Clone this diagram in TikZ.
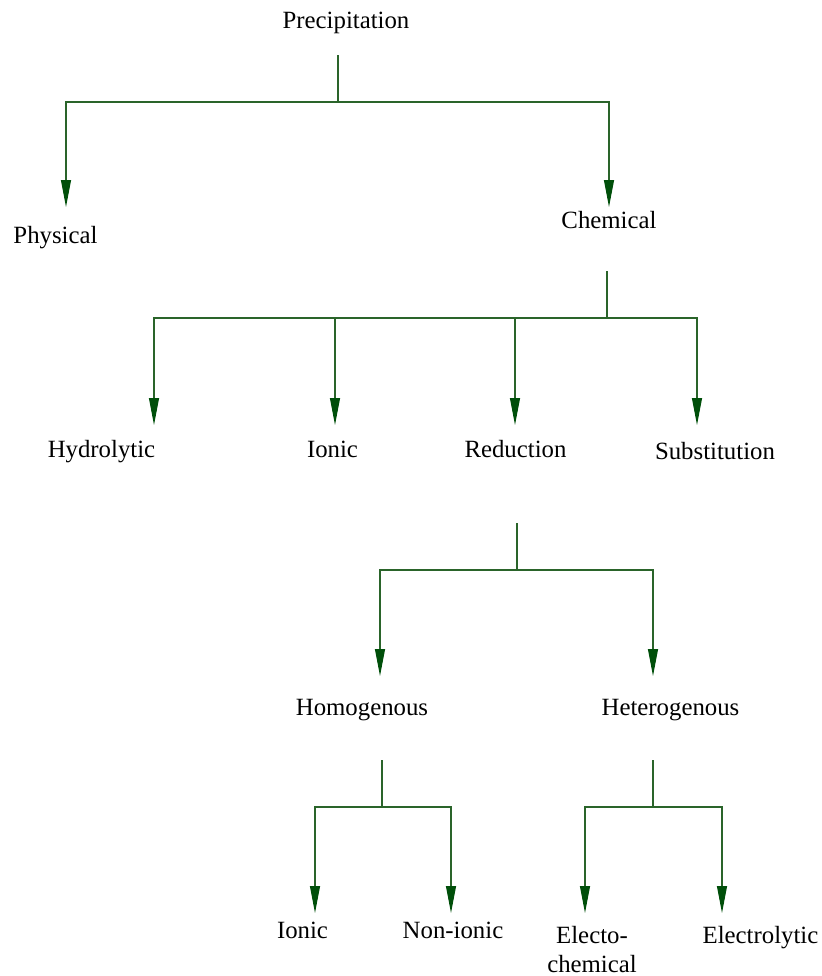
\documentclass[tikz,border=0pt]{standalone}
\usepackage{fontspec}
\setmainfont{Liberation Serif}
\usetikzlibrary{arrows.meta}
\definecolor{lgreen}{HTML}{2A642A}
\definecolor{agreen}{HTML}{004F0A}
\begin{document}
\begin{tikzpicture}[x=0.5pt,y=-0.5pt,
  lbl/.style={anchor=base,inner sep=0pt,font=\fontsize{12.4}{14.5}\selectfont},
  link/.style={draw=lgreen,line width=0.55pt},
  arr/.style={link,-{Triangle[length=13.5pt,width=5pt,color=agreen]}}]
\useasboundingbox (0,0) rectangle (822,976);
% labels
\node[lbl] (prec) at (346,28) {Precipitation};
\node[lbl] (phys) at (55.5,243) {Physical};
\node[lbl] (chem) at (609,228) {Chemical};
\node[lbl] (hydr) at (101.5,457) {Hydrolytic};
\node[lbl] (ion1) at (332.5,457) {Ionic};
\node[lbl] (redu) at (515.5,457) {Reduction};
\node[lbl] (subs) at (715,459) {Substitution};
\node[lbl] (homo) at (362,715) {Homogenous};
\node[lbl] (hete) at (670.5,715) {Heterogenous};
\node[lbl] (ion2) at (302.5,938) {Ionic};
\node[lbl] (noni) at (453,938) {Non-ionic};
\node[lbl,align=center] (elch) at (592,972) {Electo-\\chemical};
\node[lbl] (elly) at (760.5,943) {Electrolytic};
% level 1
\coordinate (s0) at (338,55); \coordinate (j0) at (338,102);
\coordinate (tphys) at (66,207); \coordinate (tchem) at (609,207);
\draw[link] (s0) -- (j0);
\draw[arr] (j0) -| (tphys);
\draw[arr] (j0) -| (tchem);
% level 2
\coordinate (s1) at (607,271); \coordinate (j1) at (607,318);
\coordinate (thydr) at (154,425); \coordinate (tion1) at (335,425);
\coordinate (tredu) at (515,425); \coordinate (tsubs) at (697,425);
\draw[link] (s1) -- (j1);
\draw[arr] (j1) -| (thydr);
\draw[arr] (j1) -| (tion1);
\draw[arr] (j1) -| (tredu);
\draw[arr] (j1) -| (tsubs);
% level 3
\coordinate (s2) at (517,523); \coordinate (j2) at (517,570);
\coordinate (thomo) at (380,676); \coordinate (thete) at (653,676);
\draw[link] (s2) -- (j2);
\draw[arr] (j2) -| (thomo);
\draw[arr] (j2) -| (thete);
% level 4 left
\coordinate (s3) at (382,760); \coordinate (j3) at (382,807);
\coordinate (tion2) at (315,913); \coordinate (tnoni) at (451,913);
\draw[link] (s3) -- (j3);
\draw[arr] (j3) -| (tion2);
\draw[arr] (j3) -| (tnoni);
% level 4 right
\coordinate (s4) at (653,760); \coordinate (j4) at (653,807);
\coordinate (telch) at (585,913); \coordinate (telly) at (722,913);
\draw[link] (s4) -- (j4);
\draw[arr] (j4) -| (telch);
\draw[arr] (j4) -| (telly);
\end{tikzpicture}
\end{document}
